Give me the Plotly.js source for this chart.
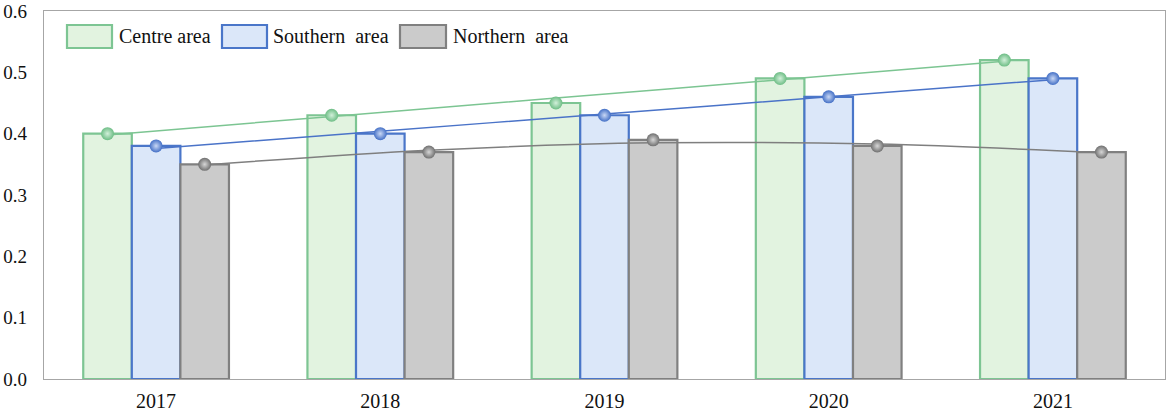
<!DOCTYPE html>
<html>
<head>
<meta charset="utf-8">
<script src="https://cdn.plot.ly/plotly-3.0.1.min.js"></script>
<style>
  html, body { margin: 0; padding: 0; background: #fff; }
  #chart { width: 1170px; height: 414px; }
</style>
</head>
<body>
<div id="chart"></div>
<script>
// values
const years = ['2017', '2018', '2019', '2020', '2021'];
const centreArea = [0.40, 0.43, 0.45, 0.49, 0.52];
const southernArea = [0.38, 0.40, 0.43, 0.46, 0.49];
const northernArea = [0.35, 0.37, 0.39, 0.38, 0.37];
// trend lines as drawn in the picture
const centreTrend = [0.398, 0.428, 0.458, 0.488, 0.518];
const southernTrend = [0.376, 0.404, 0.432, 0.460, 0.488];
const northernTrend = [0.349, 0.373, 0.385, 0.383, 0.369];

const seriesNames = ['Centre area', 'Southern  area', 'Northern  area'];

const FONT = '"Liberation Serif", "Times New Roman", serif';
const BAR_GAP = 0.35;
const barWidth = (1 - BAR_GAP) / 3;
const xIdx = years.map((_, i) => i);

const styles = [
    { edge: '#7dc593', fill: '#e2f3e0', dot: '#6dbd85', glow: '#d2f0da', line: '#7cc592' },
    { edge: '#4a76c9', fill: '#dbe7f9', dot: '#4470c6', glow: '#c9d8f5', line: '#4a73c8' },
    { edge: '#808080', fill: '#cbcbcb', dot: '#707070', glow: '#d6d6d6', line: '#7f7f7f' }
];
const values = [centreArea, southernArea, northernArea];
const trends = [centreTrend, southernTrend, northernTrend];

const traces = [];
values.forEach((vals, k) => {
    traces.push({
        type: 'bar',
        x: xIdx,
        y: vals,
        name: seriesNames[k],
        marker: { color: styles[k].fill, line: { color: styles[k].edge, width: 2.2 } },
        hoverinfo: 'y'
    });
});
trends.forEach((vals, k) => {
    traces.push({
        type: 'scatter',
        mode: 'lines',
        x: xIdx.map(i => i + (k - 1) * barWidth),
        y: vals,
        line: { color: styles[k].line, width: 1.5, shape: 'spline' },
        hoverinfo: 'skip'
    });
});
values.forEach((vals, k) => {
    traces.push({
        type: 'scatter',
        mode: 'markers',
        x: xIdx.map(i => i + (k - 1) * barWidth),
        y: vals,
        marker: {
            size: 13,
            color: styles[k].dot,
            gradient: { type: 'radial', color: styles[k].glow },
            line: { width: 0 }
        },
        hoverinfo: 'y'
    });
});

// legend drawn as boxes + labels so the swatches match the original size
const legendItems = [
    { x0: 67, x1: 112, tx: 117 },
    { x0: 222, x1: 267, tx: 271 },
    { x0: 400, x1: 446, tx: 451 }
];
const shapes = legendItems.map((it, k) => ({
    type: 'rect', xref: 'paper', yref: 'paper', layer: 'above',
    x0: (it.x0 - 44) / 1121, x1: (it.x1 - 44) / 1121,
    y0: (379 - 48) / 368, y1: (379 - 25) / 368,
    fillcolor: styles[k].fill,
    line: { color: styles[k].edge, width: 2.2 }
}));
const annotations = legendItems.map((it, k) => ({
    xref: 'paper', yref: 'paper',
    x: (it.tx - 44) / 1121, y: (379 - 36.5) / 368,
    xanchor: 'left', yanchor: 'middle',
    text: seriesNames[k].replace(/ /g, '&nbsp;'),
    showarrow: false,
    font: { family: FONT, size: 20, color: '#111' }
}));

const layout = {
    width: 1170,
    height: 414,
    margin: { l: 44, r: 5, t: 11, b: 35 },
    paper_bgcolor: '#ffffff',
    plot_bgcolor: '#ffffff',
    showlegend: false,
    barmode: 'group',
    bargap: BAR_GAP,
    bargroupgap: 0,
    font: { family: FONT, size: 19, color: '#111' },
    xaxis: {
        range: [-0.5, 4.5],
        tickvals: xIdx,
        ticktext: years,
        showgrid: false,
        zeroline: false,
        showline: true,
        mirror: true,
        linecolor: '#a6a6a6',
        linewidth: 1.3,
        ticks: '',
        ticklabelstandoff: 4,
        tickfont: { family: FONT, size: 20, color: '#111' }
    },
    yaxis: {
        range: [0, 0.6],
        dtick: 0.1,
        tickformat: '.1f',
        showgrid: false,
        zeroline: false,
        showline: true,
        mirror: true,
        linecolor: '#a6a6a6',
        linewidth: 1.3,
        ticks: '',
        ticklabelstandoff: 12,
        tickfont: { family: FONT, size: 19, color: '#111' }
    },
    shapes: shapes,
    annotations: annotations
};

Plotly.newPlot('chart', traces, layout, { displayModeBar: false, responsive: false });
</script>
</body>
</html>
